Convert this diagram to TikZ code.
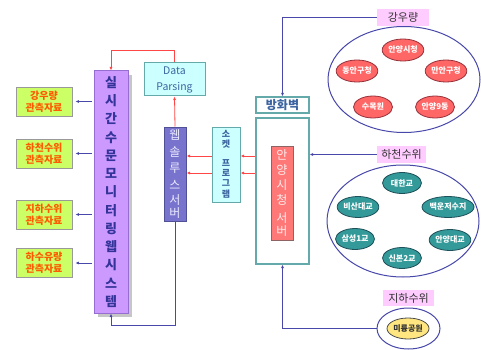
\documentclass[tikz,border=0pt]{standalone}
\usepackage{fontspec}
\setmainfont{Noto Sans CJK KR}
\usetikzlibrary{arrows.meta,shapes.geometric,calc}

\definecolor{navyline}{RGB}{72,72,170}
\definecolor{redline}{RGB}{255,70,70}
\definecolor{sysfill}{RGB}{204,153,255}
\definecolor{sysdraw}{RGB}{150,110,210}
\definecolor{systext}{RGB}{51,51,153}
\definecolor{wsfill}{RGB}{120,115,205}
\definecolor{wsdraw}{RGB}{80,80,150}
\definecolor{cyanfill}{RGB}{204,255,255}
\definecolor{cyandraw}{RGB}{100,170,170}
\definecolor{cyantext}{RGB}{60,100,160}
\definecolor{salmonfill}{RGB}{255,120,120}
\definecolor{salmondraw}{RGB}{140,100,100}
\definecolor{limefill}{RGB}{204,255,102}
\definecolor{limetext}{RGB}{255,90,0}
\definecolor{pinkfill}{RGB}{255,204,255}
\definecolor{redell}{RGB}{255,102,102}
\definecolor{redelldraw}{RGB}{150,50,60}
\definecolor{tealell}{RGB}{51,153,153}
\definecolor{tealelldraw}{RGB}{30,80,90}
\definecolor{yellowell}{RGB}{255,230,128}

\tikzset{
  tip/.style={-{Latex[length=3.5pt,width=3pt]}},
  navy/.style={draw=navyline,line width=0.8pt,tip},
  redarrow/.style={draw=redline,line width=0.8pt,tip},
  box/.style={rectangle,inner sep=0pt,align=center},
  limebox/.style={box,fill=limefill,draw=gray!80,line width=0.8pt,
    minimum width=56,minimum height=29,text=limetext,
    font=\fontsize{10}{12}\selectfont\bfseries},
  cyanbox/.style={box,fill=cyanfill,draw=cyandraw,line width=1pt,text=cyantext},
  lbl/.style={box,fill=pinkfill,font=\fontsize{11}{12}\selectfont,text=black!80},
  bigell/.style={ellipse,draw=navyline,line width=1pt,fill=white,inner sep=0pt},
  redsite/.style={ellipse,fill=redell,draw=redelldraw,line width=0.8pt,inner sep=0pt,
    minimum width=39,minimum height=22,text=white,font=\fontsize{8}{8}\selectfont\bfseries},
  tealsite/.style={ellipse,fill=tealell,draw=tealelldraw,line width=0.8pt,inner sep=0pt,
    minimum width=39,minimum height=21,text=white,font=\fontsize{8}{8}\selectfont\bfseries},
}

\begin{document}
\begin{tikzpicture}[x=1pt,y=-1pt]
\useasboundingbox[fill=white] (0,0) rectangle (481,350);

% monitoring web system column with its shadow
\fill[gray!45] (98,75) rectangle (132,317);
\node[box,fill=sysfill,draw=sysdraw,line width=1pt,minimum width=34,minimum height=242,
  text=systext,font=\fontsize{13}{18.25}\selectfont\bfseries] (sys) at (111,192)
  {실\\시\\간\\수\\문\\모\\니\\터\\링\\웹\\시\\스\\템};

% observation data boxes
\node[limebox] (g1) at (44,101.5) {강우량\\관측자료};
\node[limebox] (g2) at (44,153.5) {하천수위\\관측자료};
\node[limebox] (g3) at (44,214.5) {지하수위\\관측자료};
\node[limebox] (g4) at (44,263) {하수유량\\관측자료};

% servers and parsing
\node[cyanbox,minimum width=61,minimum height=33,font=\fontsize{10.5}{16}\selectfont] (dp) at (174.5,79.5) {Data\\Parsing};
\node[box,fill=wsfill,draw=wsdraw,line width=1pt,minimum width=22,minimum height=94,
  text=blue!8,font=\fontsize{12}{16.5}\selectfont] (ws) at (175,174)
  {웹\\솔\\루\\스\\[-1pt]서\\[-4pt]버};
\node[cyanbox,minimum width=28,minimum height=75,font=\fontsize{9}{10}\selectfont\bfseries] (sock) at (226,164.5)
  {소\\켓\\[9pt]프\\로\\그\\[1pt]램};

% firewall and city hall server
\node[box,draw=cyandraw,line width=1.2pt,fill=white,minimum width=53,minimum height=16,
  text=cyantext,font=\fontsize{12}{12}\selectfont\bfseries] (fwlbl) at (282.5,105) {방화벽};
\node[box,draw=cyandraw,line width=1.2pt,fill=white,minimum width=53,minimum height=146] (fwbox) at (282.5,191) {};
\node[box,fill=salmonfill,draw=salmondraw,line width=1pt,minimum width=22,minimum height=94,
  text=red!8,font=\fontsize{12}{15}\selectfont] (anyang) at (282,193)
  {안\\양\\시\\청\\[3pt]서\\[-2pt]버};

% rainfall stations
\node[lbl,minimum width=52,minimum height=17] (rainlbl) at (403,17.5) {강우량};
\node[bigell,minimum width=152,minimum height=106] (rainell) at (404,79.5) {};
\node[redsite] (r1) at (403,50) {안양시청};
\node[redsite] (r2) at (357,71) {동안구청};
\node[redsite] (r3) at (446,71) {만안구청};
\node[redsite] (r4) at (373,107) {수목원};
\node[redsite] (r5) at (435,107) {안양9동};

% river level stations
\node[lbl,minimum width=49,minimum height=17] (riverlbl) at (401.5,154.5) {하천수위};
\node[bigell,minimum width=152,minimum height=112] (riverell) at (403,221) {};
\node[tealsite] (t1) at (402,183) {대한교};
\node[tealsite] (t2) at (358,207) {비산대교};
\node[tealsite] (t3) at (448,207) {백운저수지};
\node[tealsite] (t4) at (355,239) {삼성1교};
\node[tealsite] (t5) at (450,240) {안양대교};
\node[tealsite] (t6) at (402,258) {신본2교};

% groundwater station
\node[lbl,minimum width=51,minimum height=16] (gwlbl) at (408.5,298) {지하수위};
\node[bigell,minimum width=63,minimum height=41] (gwout) at (408.5,328.5) {};
\node[ellipse,fill=yellowell,draw=black!70,line width=0.8pt,inner sep=0pt,
  minimum width=42,minimum height=21,font=\fontsize{8}{8}\selectfont\bfseries,text=black!80] (gwin) at (408,328.5) {미륭공원};

% connectors
\draw[redarrow] (dp.north) -- ++(0,-12) -| (sys.north);
\draw[redarrow] (ws.north) -- (dp.south);
\draw[navy] (ws.south) -- ++(0,104) -| (sys.south);
\foreach \yy in {156,173}{
  \draw[redarrow] (sock.west |- 0,\yy) -- (ws.east |- 0,\yy);
  \draw[redarrow] (fwbox.west |- 0,\yy) -- (sock.east |- 0,\yy);
}
\foreach \g in {g1,g2,g3,g4}{
  \draw[navy] ([xshift=-2]sys.west |- \g.east) -- ([xshift=3]\g.east);
}
\draw[navy] (rainlbl.west) -| (fwlbl.north);
\draw[navy] (riverlbl.west) -- (fwbox.east |- riverlbl.west);
\draw[navy] (gwout.west) -| (fwbox.south);
\end{tikzpicture}
\end{document}
